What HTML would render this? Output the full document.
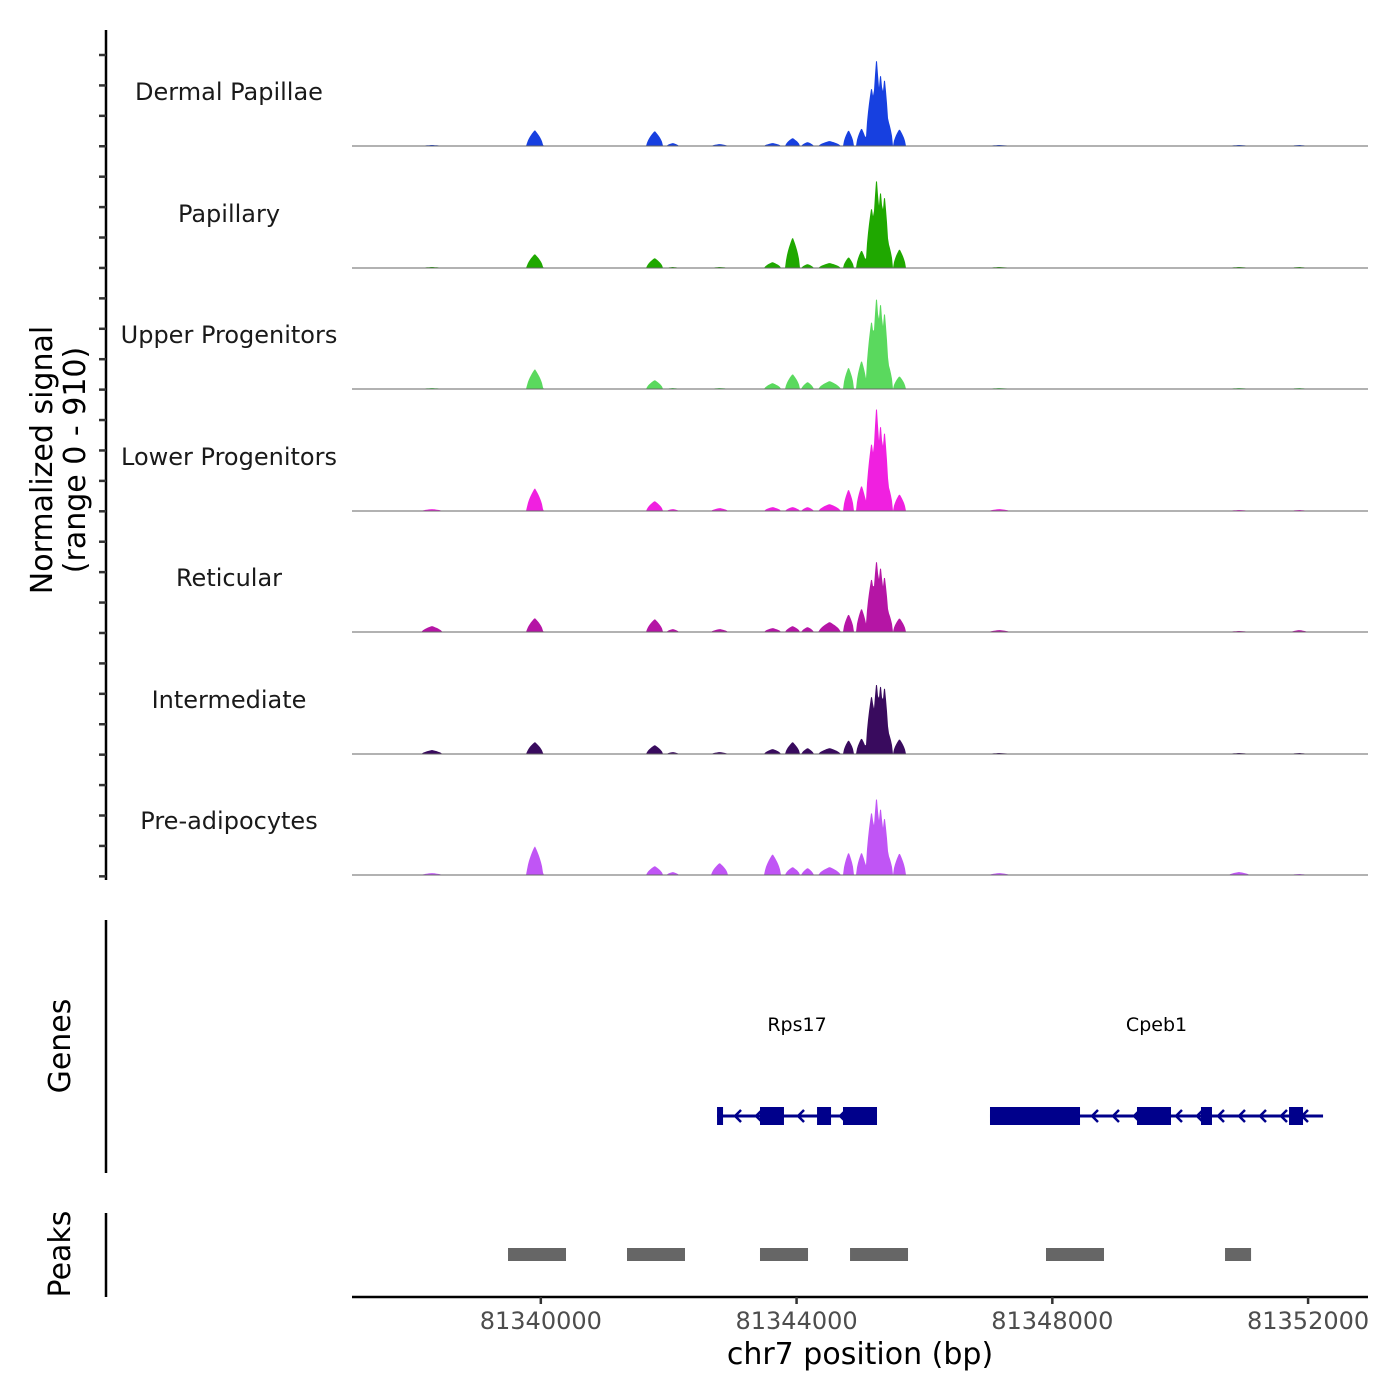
<!DOCTYPE html>
<html><head><meta charset="utf-8"><style>
body{margin:0;background:#fff}
svg{display:block;font-family:"DejaVu Sans","Liberation Sans",sans-serif}
</style></head><body>
<svg id="chart" width="1400" height="1400" viewBox="0 0 1400 1400"></svg>
<script>
// ---- data ----
const trackNames = ["Dermal Papillae","Papillary","Upper Progenitors","Lower Progenitors","Reticular","Intermediate","Pre-adipocytes"];
const trackColors = ["#1740e0","#1fa800","#5ad95e","#f020e0","#b515a5","#390b5e","#c055f5"];
const peakPos = [81338297,81339906,81341781,81342063,81342797,81343625,81343938,81344172,81344516,81344813,81345016,81345172,81345250,81345313,81345375,81345438,81345609,81347172,81350922,81351860];
const peakWidth = [160,130,130,95,130,130,115,95,170,85,85,90,70,70,70,70,100,160,160,125];
const sigDP  = [8,123,116,23,15,23,62,31,39,123,139,463,702,578,540,193,131,8,8,8];
const sigPap = [8,108,77,8,8,46,239,31,39,85,139,478,717,617,578,193,147,8,8,8];
const sigUp  = [8,154,69,8,8,46,116,54,62,170,224,540,740,694,617,193,100,8,8,8];
const sigLow = [15,177,77,15,23,31,31,31,54,170,200,540,840,694,640,193,131,15,8,8];
const sigRet = [46,108,100,23,23,31,46,39,77,139,185,424,578,524,447,154,108,15,8,15];
const sigInt = [31,93,69,15,15,39,93,46,46,108,123,463,571,555,540,170,116,8,8,8];
const sigPre = [15,224,69,23,93,162,62,54,62,177,177,501,625,540,463,154,170,15,23,8];
const trackSignals = [sigDP,sigPap,sigUp,sigLow,sigRet,sigInt,sigPre];
const signalMax = 910;
const geneNames = ["Rps17","Cpeb1"];
const geneStart = [81342756,81347025];
const geneEnd = [81345258,81352234];
const exonGene = [0,0,0,0,1,1,1,1];
const exonStart = [81342756,81343428,81344320,81344726,81347025,81349324,81350325,81351702];
const exonEnd = [81342850,81343803,81344539,81345258,81348433,81349856,81350497,81351921];
const peakStart = [81339487,81341348,81343428,81344836,81347901,81350701];
const peakEnd = [81340394,81342255,81344179,81345743,81348808,81351108];
const xTicks = [81340000,81344000,81348000,81352000];

// ---- scales ----
const X0=352,X1=1368,BP0=81337047,BP1=81352937;
const xs = bp => X0+(bp-BP0)/(BP1-BP0)*(X1-X0);
const baselines=[146,268,389,511,632,754,875];
const trackH=118;
const ys = (v,i)=>baselines[i]-v/signalMax*trackH;

const svg=document.getElementById('chart');
const NS="http://www.w3.org/2000/svg";
function mk(tag,attrs,parent){const e=document.createElementNS(NS,tag);for(const k in attrs)e.setAttribute(k,attrs[k]);(parent||svg).appendChild(e);return e;}

// left axis
const ax=mk('g',{});


mk('line',{x1:106,y1:30,x2:106,y2:880,stroke:'#000','stroke-width':2.5},ax);
for(let y=55;y<=880;y+=30.42){mk('line',{x1:99,y1:y,x2:106,y2:y,stroke:'#333','stroke-width':2.5},ax);}
const yt=mk('text',{transform:'translate(52,460) rotate(-90)','text-anchor':'middle','font-size':30,fill:'#000'});


yt.innerHTML='<tspan x="0" dy="0">Normalized signal</tspan><tspan x="0" dy="33">(range 0 - 910)</tspan>';

// tracks
trackNames.forEach((name,i)=>{
  const g=mk('g',{});
  
  
  const sig=trackSignals[i];
  let d='M'+X0+','+baselines[i];
  for(let x=X0;x<=X1;x+=1){
    const bp=BP0+(x-X0)/(X1-X0)*(BP1-BP0);
    let v=0;
    for(let k=0;k<peakPos.length;k++){
      const t=1-Math.abs(bp-peakPos[k])/peakWidth[k];
      if(t>0){const c=sig[k]*Math.pow(t,0.6);if(c>v)v=c;}
    }
    d+=' L'+x+','+ys(v,i).toFixed(1);
  }
  d+=' L'+X1+','+baselines[i]+' Z';
  const p=mk('path',{d:d,fill:trackColors[i]},g);
  
  
  mk('line',{x1:X0,y1:baselines[i],x2:X1,y2:baselines[i],stroke:'#666','stroke-width':1},g);
  const t=mk('text',{x:229,y:baselines[i]-46,'text-anchor':'middle','font-size':24,fill:'#1a1a1a'},g);
  t.textContent=name;
  
  
});

// genes
const gg=mk('g',{});


mk('line',{x1:106,y1:920,x2:106,y2:1173,stroke:'#000','stroke-width':2.5},gg);
const gt=mk('text',{transform:'translate(70,1046) rotate(-90)','text-anchor':'middle','font-size':30,fill:'#000'},gg);
gt.textContent='Genes';


geneNames.forEach((n,i)=>{
  const a=xs(geneStart[i]),b=xs(geneEnd[i]);
  const l=mk('line',{x1:a,y1:1116,x2:b,y2:1116,stroke:'#00008b','stroke-width':3},gg);
  
  
  for(let x=a+18;x<b-8;x+=21){mk('path',{d:`M${x+6},${1110} L${x},${1116} L${x+6},${1122}`,stroke:'#00008b','stroke-width':2.5,fill:'none'},gg);}
  const t=mk('text',{x:(a+b)/2,y:1031,'text-anchor':'middle','font-size':19,fill:'#000'},gg);
  t.textContent=n;
  
  
});
exonStart.forEach((s,i)=>{
  const r=mk('rect',{x:xs(s),y:1107,width:xs(exonEnd[i])-xs(s),height:18,fill:'#00008b'},gg);
  
  
});

// peaks
const pg=mk('g',{});


mk('line',{x1:106,y1:1213,x2:106,y2:1297,stroke:'#000','stroke-width':2.5},pg);
const pt=mk('text',{transform:'translate(70,1254) rotate(-90)','text-anchor':'middle','font-size':30,fill:'#000'},pg);
pt.textContent='Peaks';


peakStart.forEach((s,i)=>{
  const r=mk('rect',{x:xs(s),y:1248,width:xs(peakEnd[i])-xs(s),height:13,fill:'#666'},pg);
  
  
});

// x axis
const xa=mk('g',{});


mk('line',{x1:X0,y1:1297,x2:X1,y2:1297,stroke:'#000','stroke-width':2.5},xa);
xTicks.forEach(v=>{
  const x=xs(v);
  mk('line',{x1:x,y1:1297,x2:x,y2:1304,stroke:'#333','stroke-width':2.5},xa);
  const t=mk('text',{x:x,y:1329,'text-anchor':'middle','font-size':24,fill:'#4d4d4d'},xa);
  t.textContent=v;
  
  
});
const xt=mk('text',{x:860,y:1364,'text-anchor':'middle','font-size':30,fill:'#000'},xa);
xt.textContent='chr7 position (bp)';


</script>
</body></html>
